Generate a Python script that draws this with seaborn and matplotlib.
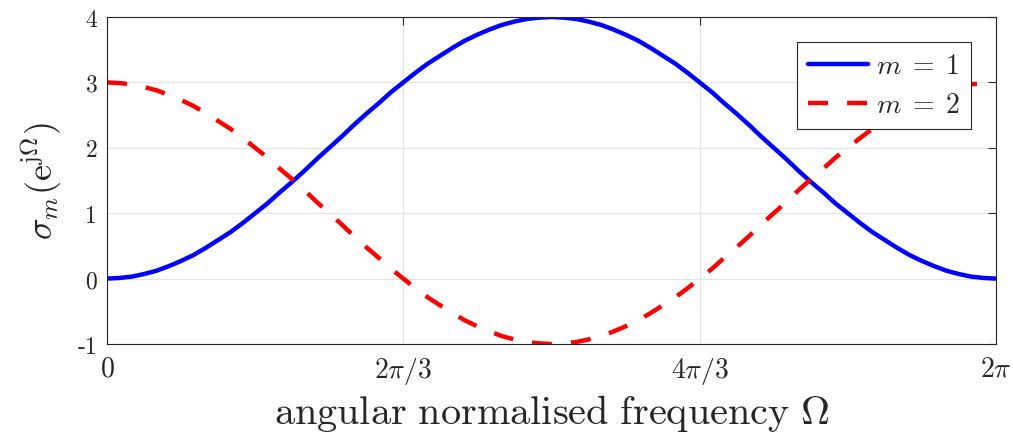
import numpy as np
import pandas as pd
import matplotlib
matplotlib.use('Agg')
import matplotlib.pyplot as plt
import seaborn as sns

# values, every 5 degrees from 0 to 360
omega_deg = list(range(0, 361, 5))
sigma_m1 = [0.00, 0.01, 0.03, 0.07, 0.12, 0.19, 0.27, 0.36, 0.47, 0.59,
            0.71, 0.85, 1.00, 1.15, 1.32, 1.48, 1.65, 1.83, 2.00, 2.17,
            2.35, 2.52, 2.68, 2.85, 3.00, 3.15, 3.29, 3.41, 3.53, 3.64,
            3.73, 3.81, 3.88, 3.93, 3.97, 3.99, 4.00,
            3.99, 3.97, 3.93, 3.88, 3.81, 3.73, 3.64, 3.53, 3.41, 3.29,
            3.15, 3.00, 2.85, 2.68, 2.52, 2.35, 2.17, 2.00, 1.83, 1.65,
            1.48, 1.32, 1.15, 1.00, 0.85, 0.71, 0.59, 0.47, 0.36, 0.27,
            0.19, 0.12, 0.07, 0.03, 0.01, 0.00]
sigma_m2 = [3.00, 2.99, 2.97, 2.93, 2.88, 2.81, 2.73, 2.64, 2.53, 2.41,
            2.29, 2.15, 2.00, 1.85, 1.68, 1.52, 1.35, 1.17, 1.00, 0.83,
            0.65, 0.48, 0.32, 0.15, 0.00, -0.15, -0.29, -0.41, -0.53, -0.64,
            -0.73, -0.81, -0.88, -0.93, -0.97, -0.99, -1.00,
            -0.99, -0.97, -0.93, -0.88, -0.81, -0.73, -0.64, -0.53, -0.41, -0.29,
            -0.15, 0.00, 0.15, 0.32, 0.48, 0.65, 0.83, 1.00, 1.17, 1.35,
            1.52, 1.68, 1.85, 2.00, 2.15, 2.29, 2.41, 2.53, 2.64, 2.73,
            2.81, 2.88, 2.93, 2.97, 2.99, 3.00]
series_labels = [r'$m\;=\;1$', r'$m\;=\;2$']
xtick_vals = [0, 2 * np.pi / 3, 4 * np.pi / 3, 2 * np.pi]
xtick_labels = ['$0$', r'$2\pi/3$', r'$4\pi/3$', r'$2\pi$']
ytick_vals = [-1, 0, 1, 2, 3, 4]
ytick_labels = ['-1', '0', '1', '2', '3', '4']

sns.set_style('white')
plt.rcParams['mathtext.fontset'] = 'cm'
plt.rcParams['font.family'] = ['cmr10', 'DejaVu Serif']
plt.rcParams['axes.unicode_minus'] = False

omega = np.deg2rad(omega_deg)
df = pd.DataFrame({
    'omega': np.concatenate([omega, omega]),
    'sigma': sigma_m1 + sigma_m2,
    'series': [series_labels[0]] * len(omega) + [series_labels[1]] * len(omega),
})

fig = plt.figure(figsize=(10.13, 4.39), dpi=100)
ax = fig.add_axes([0.1056, 0.2141, 0.8776, 0.7449])

sns.lineplot(data=df, x='omega', y='sigma', hue='series', style='series',
             palette=['#0000ff', '#ff0000'],
             dashes={series_labels[0]: '', series_labels[1]: (4.5, 4.3)},
             linewidth=3.2, ax=ax, sort=False)

ax.set_xlim(0, 2 * np.pi)
ax.set_ylim(-1, 4)
ax.set_xticks(xtick_vals)
ax.set_xticklabels(xtick_labels, fontsize=20)
ax.set_yticks(ytick_vals)
ax.set_yticklabels(ytick_labels, fontsize=17)
ax.tick_params(direction='in', length=6, width=0.8, color='#262626',
               top=True, right=True, labelcolor='#262626')
ax.tick_params(axis='x', pad=8)
ax.tick_params(axis='y', pad=7)
ax.grid(True, color='#e3e3e3', linewidth=0.8)
for sp in ax.spines.values():
    sp.set_color('#262626')
    sp.set_linewidth(0.8)

ax.set_xlabel(r'$\mathrm{angular\ normalised\ frequency}\ \Omega$', fontsize=29,
              color='#262626', labelpad=4)
ax.set_ylabel(r'$\sigma_m(\mathrm{e}^{\mathrm{j}\Omega})$', fontsize=26,
              color='#262626', labelpad=10)

leg = ax.legend(loc='upper right', bbox_to_anchor=(1 - 25 / 889, 1 - 25 / 327),
                fontsize=20, frameon=True, fancybox=False, framealpha=1,
                handlelength=2.15, borderpad=0.4, labelspacing=0.45,
                handletextpad=0.3, borderaxespad=0)
leg.get_frame().set_edgecolor('#262626')
leg.get_frame().set_linewidth(0.8)

plt.savefig('out.png', dpi=100)
